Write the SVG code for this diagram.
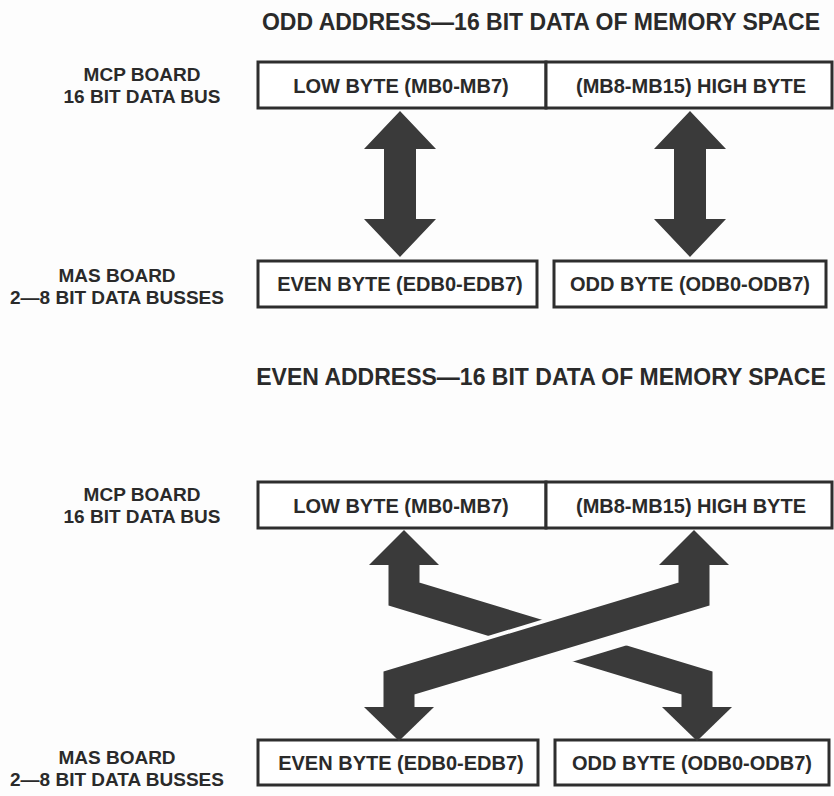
<svg xmlns="http://www.w3.org/2000/svg" width="834" height="796" viewBox="0 0 834 796">
<style>
.bg{fill:#fdfdfd}
.box{fill:#ffffff;stroke:#2e2e2e;stroke-width:3}
.t{font-family:"Liberation Sans",Arial,Helvetica,sans-serif;font-weight:bold;font-size:20px;fill:#2a2a2a;text-anchor:middle}
.lbl{font-size:19px}
.title{font-size:23px}
.arrow{fill:#3a3a3a}
.band{fill:none;stroke:#3a3a3a;stroke-width:31;stroke-linejoin:miter;stroke-miterlimit:10}
.gap{fill:none;stroke:#fdfdfd;stroke-width:49}
</style>
<rect class="bg" x="0" y="0" width="834" height="796"/>

<!-- Section 1 -->
<g id="title-odd"><text class="t title" x="541" y="30">ODD ADDRESS—16 BIT DATA OF MEMORY SPACE</text></g>
<g id="label-mcp-1"><text class="t lbl" x="142" y="81">MCP BOARD</text><text class="t lbl" x="142" y="103">16 BIT DATA BUS</text></g>
<g id="label-mas-1"><text class="t lbl" x="117" y="282">MAS BOARD</text><text class="t lbl" x="117" y="304">2—8 BIT DATA BUSSES</text></g>
<g id="low-byte-1"><rect class="box" x="258" y="62" width="288" height="46"/><text class="t" x="401" y="93">LOW BYTE (MB0-MB7)</text></g>
<g id="high-byte-1"><rect class="box" x="546" y="62" width="286" height="46"/><text class="t" x="691" y="93">(MB8-MB15) HIGH BYTE</text></g>
<g id="even-byte-1"><rect class="box" x="258" y="261" width="279" height="46"/><text class="t" x="400" y="291">EVEN BYTE (EDB0-EDB7)</text></g>
<g id="odd-byte-1"><rect class="box" x="554" y="261" width="272" height="46"/><text class="t" x="690" y="291">ODD BYTE (ODB0-ODB7)</text></g>

<!-- Section 2 -->
<g id="title-even"><text class="t title" x="541" y="385">EVEN ADDRESS—16 BIT DATA OF MEMORY SPACE</text></g>
<g id="label-mcp-2"><text class="t lbl" x="142" y="501">MCP BOARD</text><text class="t lbl" x="142" y="523">16 BIT DATA BUS</text></g>
<g id="label-mas-2"><text class="t lbl" x="117" y="764">MAS BOARD</text><text class="t lbl" x="117" y="786">2—8 BIT DATA BUSSES</text></g>
<g id="low-byte-2"><rect class="box" x="258" y="482" width="288" height="46"/><text class="t" x="401" y="513">LOW BYTE (MB0-MB7)</text></g>
<g id="high-byte-2"><rect class="box" x="546" y="482" width="286" height="46"/><text class="t" x="691" y="513">(MB8-MB15) HIGH BYTE</text></g>
<g id="even-byte-2"><rect class="box" x="258" y="740" width="280" height="45"/><text class="t" x="401" y="770">EVEN BYTE (EDB0-EDB7)</text></g>
<g id="odd-byte-2"><rect class="box" x="555" y="740" width="274" height="45"/><text class="t" x="692" y="770">ODD BYTE (ODB0-ODB7)</text></g>

<g id="connectors">
  <!-- section 1 double arrows -->
  <polygon class="arrow" points="400,111 436,149 416,149 416,219 436,219 400,257 364,219 384,219 384,149 364,149"/>
  <polygon class="arrow" points="690,111 726,149 706,149 706,219 726,219 690,257 654,219 674,219 674,149 654,149"/>
  <!-- section 2 crossed arrows: band A (low byte -> odd byte) -->
  <polyline class="band" points="404,560 404,594 697,683 697,712"/>
  <polygon class="arrow" points="404,530 439,565 369,565"/>
  <polygon class="arrow" points="662,707 732,707 697,741"/>
  <!-- gap around band B -->
  <line class="gap" x1="452" y1="672.5" x2="642" y2="615"/>
  <!-- band B (even byte -> high byte) -->
  <polyline class="band" points="399,712 399,683 694,594 694,560"/>
  <polygon class="arrow" points="364,707 434,707 399,741"/>
  <polygon class="arrow" points="694,530 729,565 659,565"/>
</g>
</svg>
